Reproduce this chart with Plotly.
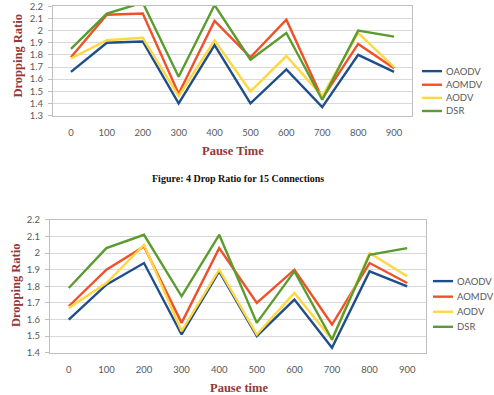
import plotly.graph_objects as go

pause_times = ["0", "100", "200", "300", "400", "500", "600", "700", "800", "900"]
series_names = ["OAODV", "AOMDV", "AODV", "DSR"]
series_colors = ["#1F4E8C", "#F0512A", "#FFD740", "#5B9B2F"]

# Top chart (cut at top in the reference)
top_oaodv = [1.66, 1.90, 1.91, 1.40, 1.88, 1.40, 1.68, 1.37, 1.80, 1.66]
top_aomdv = [1.78, 2.13, 2.14, 1.48, 2.08, 1.78, 2.09, 1.44, 1.89, 1.69]
top_aodv = [1.77, 1.92, 1.94, 1.46, 1.92, 1.50, 1.79, 1.46, 1.98, 1.70]
top_dsr = [1.85, 2.14, 2.23, 1.62, 2.21, 1.76, 1.98, 1.43, 2.00, 1.95]

# Bottom chart
bot_oaodv = [1.60, 1.81, 1.94, 1.51, 1.89, 1.50, 1.72, 1.43, 1.89, 1.80]
bot_aomdv = [1.68, 1.90, 2.04, 1.58, 2.03, 1.70, 1.90, 1.57, 1.94, 1.82]
bot_aodv = [1.67, 1.82, 2.05, 1.53, 1.90, 1.51, 1.76, 1.48, 2.00, 1.86]
bot_dsr = [1.79, 2.03, 2.11, 1.74, 2.11, 1.58, 1.89, 1.48, 1.99, 2.03]

top_yticks = [1.3, 1.4, 1.5, 1.6, 1.7, 1.8, 1.9, 2.0, 2.1, 2.2]
top_ytext = ["1.3", "1.4", "1.5", "1.6", "1.7", "1.8", "1.9", "2", "2.1", "2.2"]
bot_yticks = [1.4, 1.5, 1.6, 1.7, 1.8, 1.9, 2.0, 2.1, 2.2]
bot_ytext = ["1.4", "1.5", "1.6", "1.7", "1.8", "1.9", "2", "2.1", "2.2"]

W, H = 494, 395
TITLE_COLOR = "#953735"
TICK_COLOR = "#595959"
GRID = "#D9D9D9"
AXLINE = "#BFBFBF"
TICKFONT = dict(family="Lato, Liberation Sans, sans-serif", size=9.5, color=TICK_COLOR)
TITLEFONT = dict(family="Liberation Serif, serif", size=12.5, color=TITLE_COLOR)
LEGFONT = dict(family="Lato, Liberation Sans, sans-serif", size=9.5, color=TICK_COLOR)

fig = go.Figure()

top_data = [top_oaodv, top_aomdv, top_aodv, top_dsr]
bot_data = [bot_oaodv, bot_aomdv, bot_aodv, bot_dsr]

for name, color, vals in zip(series_names, series_colors, top_data):
    fig.add_trace(go.Scatter(x=pause_times, y=vals, mode="lines", name=name,
                             line=dict(color=color, width=2.4),
                             xaxis="x", yaxis="y", showlegend=False))
for name, color, vals in zip(series_names, series_colors, bot_data):
    fig.add_trace(go.Scatter(x=pause_times, y=vals, mode="lines", name=name,
                             line=dict(color=color, width=2.4),
                             xaxis="x2", yaxis="y2", showlegend=False))

def px_x(p):
    return p / W

def px_y(p):
    return 1 - p / H

common_x = dict(type="category", showgrid=False, showline=True, linecolor=AXLINE,
                linewidth=1, mirror=True, ticks="", tickfont=TICKFONT,
                ticklabelstandoff=8, range=[-0.5, 9.5], fixedrange=True)
common_y = dict(showgrid=True, gridcolor=GRID, gridwidth=1, showline=True,
                linecolor=AXLINE, linewidth=1, mirror=True, ticks="outside",
                ticklen=4, tickcolor=AXLINE, tickfont=TICKFONT, zeroline=False,
                ticklabelstandoff=3, fixedrange=True)

fig.update_layout(
    width=W, height=H,
    margin=dict(l=0, r=0, t=0, b=0),
    paper_bgcolor="white", plot_bgcolor="white",
    xaxis=dict(common_x, domain=[px_x(53), px_x(412)], anchor="y"),
    yaxis=dict(common_y, domain=[px_y(112.7), 1.0], anchor="x",
               range=[1.3, 2.2 + 3 / 121.9 * 0.1],
               tickvals=top_yticks, ticktext=top_ytext),
    xaxis2=dict(common_x, domain=[px_x(50), px_x(426)], anchor="y2"),
    yaxis2=dict(common_y, domain=[px_y(356.7), px_y(220)], anchor="x2",
                range=[1.4, 2.2], tickvals=bot_yticks, ticktext=bot_ytext),
    showlegend=False,
)

# Manual legends (Excel-style compact rows)
legend_specs = [
    (422, 442, 444, [67, 81, 94.5, 108]),
    (433, 453, 455, [283, 299, 314.5, 330]),
]
for x0, x1, xt, rows in legend_specs:
    for name, color, yy in zip(series_names, series_colors, rows):
        fig.add_shape(type="line", xref="paper", yref="paper",
                      x0=px_x(x0), x1=px_x(x1), y0=px_y(yy), y1=px_y(yy),
                      line=dict(color=color, width=2.4))
        fig.add_annotation(text=name, x=px_x(xt), y=px_y(yy), xref="paper", yref="paper",
                           showarrow=False, font=LEGFONT, xanchor="left", yanchor="middle")

fig.add_annotation(text="<b>Dropping Ratio</b>", x=px_x(18), y=px_y(52), xref="paper", yref="paper",
                   textangle=-90, showarrow=False, font=TITLEFONT, xanchor="center", yanchor="middle")
fig.add_annotation(text="<b>Pause Time</b>", x=px_x(233), y=px_y(149), xref="paper", yref="paper",
                   showarrow=False, font=TITLEFONT, xanchor="center", yanchor="middle")
fig.add_annotation(text="<b>Figure: 4 Drop Ratio for 15 Connections</b>", x=px_x(238), y=px_y(177),
                   xref="paper", yref="paper", showarrow=False,
                   font=dict(family="Liberation Serif, serif", size=10, color="#111111"),
                   xanchor="center", yanchor="middle")
fig.add_annotation(text="<b>Dropping Ratio</b>", x=px_x(16), y=px_y(288), xref="paper", yref="paper",
                   textangle=-90, showarrow=False, font=TITLEFONT, xanchor="center", yanchor="middle")
fig.add_annotation(text="<b>Pause time</b>", x=px_x(239), y=px_y(393), xref="paper", yref="paper",
                   showarrow=False, font=TITLEFONT, xanchor="center", yanchor="middle")

fig.write_html("out.html")
